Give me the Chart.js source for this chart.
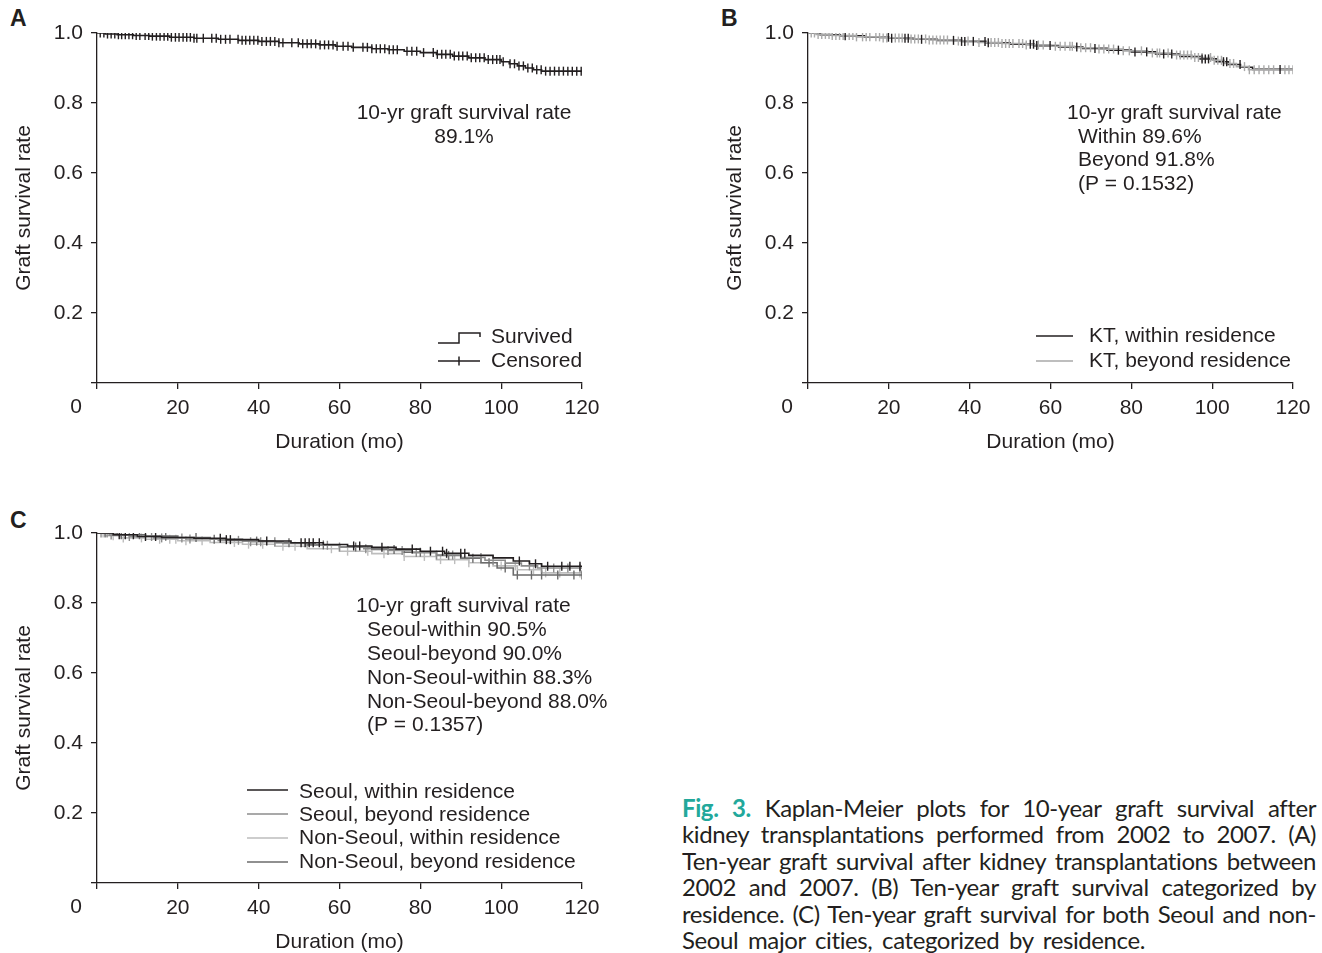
<!DOCTYPE html>
<html><head><meta charset="utf-8">
<script src="https://cdn.jsdelivr.net/npm/chart.js@4"></script>
<style>
html,body{margin:0;padding:0;background:#fff;width:1322px;height:953px;overflow:hidden;position:relative;}
canvas{position:absolute;}
.lbl{position:absolute;font:bold 23px "Liberation Sans",Arial,sans-serif;color:#231f20;line-height:23px;}
#caption{position:absolute;left:682px;top:795px;width:634px;font-family:Lato,sans-serif;font-size:24px;letter-spacing:-0.4px;line-height:26.4px;color:#231f20;}
#caption div{white-space:nowrap;text-align:justify;text-align-last:justify;}
#caption div.last{text-align-last:left;word-spacing:4px;}
#caption b{color:#22a89b;}
</style></head>
<body>
<div class="lbl" style="left:10px;top:7px">A</div>
<div class="lbl" style="left:721px;top:7px">B</div>
<div class="lbl" style="left:10px;top:509px">C</div>
<canvas id="cA" width="660" height="460" style="left:0;top:0"></canvas>
<canvas id="cB" width="611" height="460" style="left:711px;top:0"></canvas>
<canvas id="cC" width="660" height="453" style="left:0;top:500px"></canvas>
<div id="caption">
<div><b>Fig. 3.</b> Kaplan-Meier plots for 10-year graft survival after</div>
<div>kidney transplantations performed from 2002 to 2007. (A)</div>
<div>Ten-year graft survival after kidney transplantations between</div>
<div>2002 and 2007. (B) Ten-year graft survival categorized by</div>
<div>residence. (C) Ten-year graft survival for both Seoul and non-</div>
<div class="last">Seoul major cities, categorized by residence.</div>
</div>
<script>
// ---------- tick labels ----------
const xTicks = [0, 20, 40, 60, 80, 100, 120];
const yTicks = [0, 0.2, 0.4, 0.6, 0.8, 1.0];

// ---------- Panel A: all patients ----------
const aTimes = [0, 2, 5, 9, 13, 18, 24, 30, 35, 40, 45, 50, 55, 59, 63, 68, 72, 76, 80, 84, 88, 92, 96, 100, 102, 104, 106, 108, 110, 120];
const aSurv  = [1.0, 0.997, 0.995, 0.993, 0.991, 0.988, 0.985, 0.982, 0.979, 0.976, 0.972, 0.969, 0.966, 0.962, 0.959, 0.955, 0.952, 0.948, 0.944, 0.939, 0.934, 0.929, 0.924, 0.918, 0.912, 0.906, 0.900, 0.895, 0.891, 0.891];
const aCensor = [0.8, 1.7, 2.6, 3.5, 4.4, 5.3, 6.1, 7.0, 7.9, 8.8, 9.7, 10.6,
  11.9, 12.8, 13.7, 14.7, 15.6, 16.6, 17.5, 18.4, 19.4, 20.3, 21.3, 22.2, 23.1, 24.0, 24.7,
  26.3, 28.4, 29.5, 30.6, 31.8, 32.9,
  34.9, 35.9, 36.8, 37.8, 38.8, 39.8, 40.8, 41.9, 42.9, 44.0, 45.0, 46.0, 48.2,
  49.8, 50.9, 52.0, 53.0, 54.1, 55.2, 56.3, 57.3, 58.4, 59.4, 60.9, 62.1, 63.4,
  65.8, 66.9, 68.0, 69.1, 70.1, 71.2, 72.3, 73.3, 74.3, 76.7, 77.9, 79.1, 80.8,
  83.2, 84.2, 85.3, 86.3, 87.4, 88.4, 89.5, 90.5, 91.6, 92.6, 93.7, 94.7, 95.8, 96.8, 97.9, 98.9, 99.7, 100.5,
  102.2, 103.3, 104.4, 105.5, 106.6, 107.7, 108.8, 109.9, 111.0, 112.1, 113.2, 114.3, 115.4, 116.5, 117.6, 118.7, 119.8];

// ---------- Panel B: within vs beyond residence ----------
const bWithinTimes = [0, 3, 8, 14, 20, 26, 32, 38, 44, 50, 56, 62, 68, 74, 80, 86, 92, 97, 101, 104, 107, 110, 120];
const bWithinSurv  = [1.0, 0.995, 0.992, 0.988, 0.985, 0.982, 0.979, 0.976, 0.972, 0.968, 0.964, 0.960, 0.956, 0.951, 0.946, 0.940, 0.933, 0.926, 0.918, 0.910, 0.902, 0.896, 0.896];
const bWithinCensor = [9.2, 19.9, 20.7, 24.0, 24.8, 28.1, 36.0, 38.0, 38.8, 40.9, 43.8, 44.6, 55.0, 55.8, 56.6, 59.9, 66.5, 71.0, 76.8, 80.9, 83.8, 88.0, 90.0, 97.5, 98.3, 99.1, 102.8, 103.6, 106.9, 116.8];
const bBeyondTimes = [0, 2, 6, 12, 18, 24, 30, 36, 42, 48, 54, 60, 66, 72, 78, 84, 90, 95, 100, 103, 106, 109, 120];
const bBeyondSurv  = [1.0, 0.996, 0.993, 0.989, 0.986, 0.983, 0.980, 0.977, 0.973, 0.970, 0.966, 0.962, 0.958, 0.954, 0.949, 0.943, 0.937, 0.930, 0.922, 0.913, 0.904, 0.895, 0.895];
const bBeyondCensor = [0.8, 1.6, 2.5, 3.4, 4.3, 5.2, 6.0, 6.9, 7.8, 8.7, 10.2, 11.1, 12.0, 13.5, 14.4, 15.3, 16.8, 17.7, 18.6, 19.5,
  21.6, 22.5, 23.3, 25.5, 26.4, 27.3, 29.1, 30.0, 30.9, 31.8, 32.7, 33.6, 34.5, 37.2, 39.6, 42.3, 45.3, 46.2, 47.1, 48.0, 48.9, 49.8, 50.7,
  52.2, 53.1, 54.0, 57.0, 58.2, 61.2, 62.4, 63.6, 64.8, 65.4, 67.5, 68.7, 69.9, 72.0, 73.2, 74.4, 75.6, 78.0, 79.5, 82.5, 85.2, 86.4, 87.0,
  89.1, 91.2, 92.1, 93.0, 93.9, 94.8, 95.7, 96.6, 97.5, 99.6, 100.5, 101.4, 102.3, 104.4, 105.3, 108.0, 109.2, 110.4, 111.6, 112.8,
  114.0, 115.2, 118.0, 119.0, 120.0];

// ---------- Panel C: Seoul / Non-Seoul x within / beyond ----------
const cSWTimes = [0, 4, 10, 16, 24, 32, 40, 48, 56, 62, 68, 74, 80, 86, 92, 98, 103, 107, 110, 120];
const cSWSurv  = [1.0, 0.995, 0.990, 0.987, 0.985, 0.981, 0.977, 0.972, 0.967, 0.963, 0.959, 0.954, 0.948, 0.942, 0.936, 0.929, 0.920, 0.912, 0.905, 0.905];
const cSWCensor = [5.5, 7.0, 9.0, 12.0, 14.5, 30.5, 32.0, 33.0, 42.0, 50.5, 51.5, 52.5, 53.5, 55.0, 63.5, 65.0, 70.5, 78.0, 82.5, 85.5, 86.5, 90.0, 91.0, 104.5, 108.5, 111.5, 115.0, 117.0, 119.5];
const cSBTimes = [0, 3, 8, 14, 22, 30, 38, 46, 54, 60, 66, 72, 78, 84, 90, 96, 101, 105, 109, 120];
const cSBSurv  = [1.0, 0.994, 0.990, 0.986, 0.983, 0.979, 0.975, 0.970, 0.965, 0.960, 0.955, 0.950, 0.944, 0.937, 0.930, 0.922, 0.914, 0.906, 0.900, 0.900];
const cSBCensor = [1.0, 2.5, 3.5, 8.0, 13.5, 16.0, 21.0, 23.0, 35.0, 38.0, 40.5, 44.0, 57.0, 60.0, 66.5, 72.0, 75.5, 79.0, 84.0, 88.0, 95.0, 98.0, 107.0, 110.0, 113.0, 116.5, 119.5];
const cNWTimes = [0, 2, 6, 12, 20, 28, 36, 44, 52, 60, 68, 76, 84, 92, 98, 104, 110, 120];
const cNWSurv  = [1.0, 0.992, 0.986, 0.982, 0.978, 0.973, 0.968, 0.962, 0.955, 0.948, 0.941, 0.933, 0.924, 0.915, 0.906, 0.895, 0.886, 0.886];
const cNWCensor = [1.5, 4.0, 6.5, 11.0, 15.5, 18.0, 19.5, 22.0, 26.0, 34.0, 37.5, 41.0, 46.0, 49.0, 58.0, 62.0, 67.0, 71.0, 76.0, 81.0, 85.0, 88.5, 92.0, 100.0, 103.5, 108.0, 111.0, 114.5, 119.5];
const cNBTimes = [0, 5, 12, 20, 28, 36, 44, 52, 60, 68, 76, 84, 90, 95, 99, 103, 120];
const cNBSurv  = [1.0, 0.995, 0.991, 0.987, 0.982, 0.977, 0.972, 0.966, 0.960, 0.953, 0.945, 0.936, 0.928, 0.915, 0.900, 0.880, 0.880];
const cNBCensor = [2.0, 6.0, 10.5, 17.0, 24.5, 29.0, 39.5, 47.5, 56.0, 64.0, 73.5, 80.0, 87.0, 93.0, 97.0, 101.0, 104.0, 107.5, 110.0, 114.0, 118.0, 120.0];

// ---------- helpers ----------
const INK = '#231f20';
const FONT = {family: '"Liberation Sans", Arial, sans-serif', size: 21};
function stepData(times, surv) { return times.map((t, i) => ({x: t, y: surv[i]})); }
function censorData(cens, times, surv) {
  return cens.map(t => {
    let s = surv[0];
    for (let i = 0; i < times.length; i++) if (times[i] <= t) s = surv[i];
    return {x: t, y: s};
  });
}
function lineDs(times, surv, color) {
  return {data: stepData(times, surv), stepped: true, borderColor: color, borderWidth: 1.6,
          pointRadius: 0, fill: false, showLine: true};
}
function censDs(cens, times, surv, color) {
  return {data: censorData(cens, times, surv), showLine: false, pointStyle: 'line', rotation: 90,
          pointRadius: 4.5, borderColor: color, backgroundColor: color, pointBorderWidth: 1.4, borderWidth: 1.4};
}

const extras = {
  id: 'extras',
  afterDraw(chart, args, opts) {
    const ctx = chart.ctx;
    ctx.save();
    ctx.font = '21px "Liberation Sans", Arial, sans-serif';
    ctx.fillStyle = INK;
    ctx.textBaseline = 'middle';
    // origin label
    ctx.textAlign = 'center';
    ctx.fillText('0', 76, 407);
    (opts.texts || []).forEach(t => {
      ctx.textAlign = t.align || 'left';
      ctx.fillText(t.text, t.x, t.y);
    });
    (opts.legend || []).forEach(l => {
      ctx.strokeStyle = l.color; ctx.lineWidth = 1.5;
      ctx.beginPath();
      if (l.kind === 'step') {
        const m = (l.x1 + l.x2) / 2;
        ctx.moveTo(l.x1, l.y + 5); ctx.lineTo(m, l.y + 5); ctx.lineTo(m, l.y - 5);
        ctx.lineTo(l.x2, l.y - 5); ctx.lineTo(l.x2, l.y - 1);
      } else {
        ctx.moveTo(l.x1, l.y); ctx.lineTo(l.x2, l.y);
        if (l.kind === 'cens') {
          const m = (l.x1 + l.x2) / 2;
          ctx.moveTo(m, l.y - 4.5); ctx.lineTo(m, l.y + 4.5);
        }
      }
      ctx.stroke();
      ctx.fillStyle = INK; ctx.textAlign = 'left';
      ctx.fillText(l.text, l.tx, l.ty !== undefined ? l.ty : l.y);
    });
    ctx.restore();
  }
};

function makeChart(id, datasets, extraOpts, W, H) {
  const axisCommon = {
    grid: {display: true, drawOnChartArea: false, drawTicks: true, tickLength: 6, color: INK, lineWidth: 1.3},
    border: {display: true, color: INK, width: 1.3},
  };
  return new Chart(document.getElementById(id), {
    type: 'line',
    data: {datasets},
    plugins: [extras],
    options: {
      responsive: false, animation: false, events: [],
      layout: {padding: {left: 0, top: 33, right: W - 582, bottom: H - 460}},
      plugins: {legend: {display: false}, tooltip: {enabled: false}, extras: extraOpts},
      scales: {
        x: Object.assign({}, axisCommon, {
          type: 'linear', min: 0, max: 120,
          afterBuildTicks: s => { s.ticks = xTicks.map(v => ({value: v})); },
          afterFit: s => { s.height = 77; },
          ticks: {font: FONT, color: INK, padding: 7, maxRotation: 0, autoSkip: false,
                  callback: v => v === 0 ? '' : String(v)},
          title: {display: true, text: 'Duration (mo)', font: FONT, color: INK, padding: {top: 0, bottom: 5}}
        }),
        y: Object.assign({}, axisCommon, {
          type: 'linear', min: 0, max: 1,
          afterBuildTicks: s => { s.ticks = yTicks.map(v => ({value: v})); },
          afterFit: s => { s.width = 97; },
          ticks: {font: FONT, color: INK, padding: 8, autoSkip: false,
                  callback: v => v === 0 ? '' : v.toFixed(1)},
          title: {display: true, text: 'Graft survival rate', font: FONT, color: INK, padding: {top: 12, bottom: 0}}
        })
      }
    }
  });
}

// Panel A
makeChart('cA', [
  censDs(aCensor, aTimes, aSurv, INK),
  lineDs(aTimes, aSurv, INK)
], {
  texts: [
    {text: '10-yr graft survival rate', x: 464, y: 113, align: 'center'},
    {text: '89.1%', x: 464, y: 137, align: 'center'}
  ],
  legend: [
    {kind: 'step', x1: 438, x2: 480, y: 338, color: INK, text: 'Survived', tx: 491, ty: 337},
    {kind: 'cens', x1: 438, x2: 480, y: 361, color: INK, text: 'Censored', tx: 491}
  ]
}, 660, 460);

// Panel B
const GRAY_B = '#a9a9a9';
makeChart('cB', [
  censDs(bWithinCensor, bWithinTimes, bWithinSurv, INK),
  censDs(bBeyondCensor, bBeyondTimes, bBeyondSurv, GRAY_B),
  lineDs(bBeyondTimes, bBeyondSurv, GRAY_B),
  lineDs(bWithinTimes, bWithinSurv, INK)
], {
  texts: [
    {text: '10-yr graft survival rate', x: 356, y: 113},
    {text: 'Within 89.6%', x: 367, y: 137},
    {text: 'Beyond 91.8%', x: 367, y: 160},
    {text: '(P = 0.1532)', x: 367, y: 184}
  ],
  legend: [
    {kind: 'line', x1: 325, x2: 362, y: 336, color: INK, text: 'KT, within residence', tx: 378},
    {kind: 'line', x1: 325, x2: 362, y: 361, color: GRAY_B, text: 'KT, beyond residence', tx: 378}
  ]
}, 611, 460);

// Panel C
const C_SB = '#8c8c8c', C_NW = '#bdbdbd', C_NB = '#6b6b6b';
makeChart('cC', [
  censDs(cSWCensor, cSWTimes, cSWSurv, INK),
  lineDs(cSWTimes, cSWSurv, INK),
  censDs(cSBCensor, cSBTimes, cSBSurv, C_SB),
  lineDs(cSBTimes, cSBSurv, C_SB),
  censDs(cNBCensor, cNBTimes, cNBSurv, C_NB),
  lineDs(cNBTimes, cNBSurv, C_NB),
  censDs(cNWCensor, cNWTimes, cNWSurv, C_NW),
  lineDs(cNWTimes, cNWSurv, C_NW)
], {
  texts: [
    {text: '10-yr graft survival rate', x: 356, y: 106},
    {text: 'Seoul-within 90.5%', x: 367, y: 130},
    {text: 'Seoul-beyond 90.0%', x: 367, y: 154},
    {text: 'Non-Seoul-within 88.3%', x: 367, y: 178},
    {text: 'Non-Seoul-beyond 88.0%', x: 367, y: 202},
    {text: '(P = 0.1357)', x: 367, y: 225}
  ],
  legend: [
    {kind: 'line', x1: 247, x2: 288, y: 290, color: INK, text: 'Seoul, within residence', tx: 299, ty: 292},
    {kind: 'line', x1: 247, x2: 288, y: 314, color: C_SB, text: 'Seoul, beyond residence', tx: 299, ty: 315},
    {kind: 'line', x1: 247, x2: 288, y: 338, color: C_NW, text: 'Non-Seoul, within residence', tx: 299, ty: 338},
    {kind: 'line', x1: 247, x2: 288, y: 362, color: C_NB, text: 'Non-Seoul, beyond residence', tx: 299, ty: 362}
  ]
}, 660, 453);
</script>
</body></html>
